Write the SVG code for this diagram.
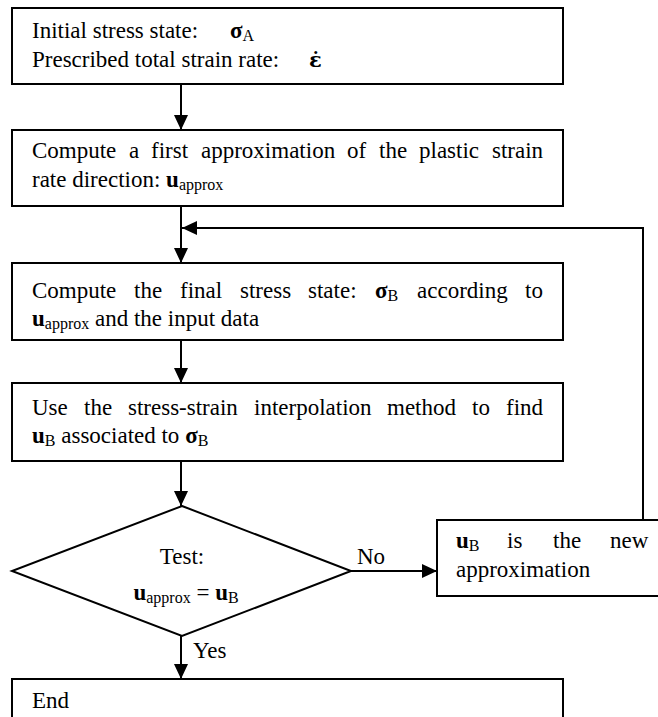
<svg xmlns="http://www.w3.org/2000/svg" width="658" height="717" viewBox="0 0 658 717">
<defs>
<marker id="ah" markerUnits="userSpaceOnUse" markerWidth="16" markerHeight="14" refX="15" refY="7" orient="auto">
<path d="M0,0 L15,7 L0,14 z" fill="#000"/>
</marker>
<style>
.box{fill:#fff;stroke:#000;stroke-width:2}
.con{fill:none;stroke:#000;stroke-width:2}
text{font-family:"Liberation Serif","Times New Roman",serif;font-size:23px;fill:#000}
.b{font-weight:bold}
.s{font-size:16px}
.eps{font-family:"DejaVu Serif","Liberation Serif",serif;font-size:21px;font-weight:bold}
</style>
</defs>
<rect width="658" height="717" fill="#fff"/>
<g id="connectors">
<line class="con" x1="181" y1="84" x2="181" y2="130" marker-end="url(#ah)"/>
<line class="con" x1="181" y1="206" x2="181" y2="263" marker-end="url(#ah)"/>
<polyline class="con" points="643,520 643,228 182,228" marker-end="url(#ah)"/>
<line class="con" x1="181" y1="340" x2="181" y2="383" marker-end="url(#ah)"/>
<line class="con" x1="181" y1="461" x2="181" y2="506" marker-end="url(#ah)"/>
<line class="con" x1="351" y1="571" x2="437" y2="571" marker-end="url(#ah)"/>
<line class="con" x1="181" y1="636" x2="181" y2="679" marker-end="url(#ah)"/>
<text x="357" y="564">No</text>
<text x="193" y="658">Yes</text>
</g>
<g id="start">
<rect class="box" x="12" y="8" width="551" height="76"/>
<text x="32" y="38">Initial stress state: <tspan class="b" x="230">σ</tspan><tspan class="s" dy="3">A</tspan></text>
<text x="32" y="67">Prescribed total strain rate: <tspan class="eps" x="309">ε̇</tspan></text>
</g>
<g id="first-approx">
<rect class="box" x="12" y="130" width="551" height="76"/>
<text y="158"><tspan x="32">Compute</tspan><tspan x="129">a</tspan><tspan x="151">first</tspan><tspan x="201">approximation</tspan><tspan x="347">of</tspan><tspan x="379">the</tspan><tspan x="419">plastic</tspan><tspan x="492">strain</tspan></text>
<text y="187"><tspan x="32">rate direction: </tspan><tspan class="b">u</tspan><tspan class="s" dy="3">approx</tspan></text>
</g>
<g id="final-stress">
<rect class="box" x="12" y="263" width="551" height="77"/>
<text y="298"><tspan x="32">Compute</tspan><tspan x="134">the</tspan><tspan x="180">final</tspan><tspan x="240">stress</tspan><tspan x="308">state:</tspan><tspan class="b" x="375">σ</tspan><tspan class="s" dy="3">B</tspan><tspan x="417" dy="-3">according</tspan><tspan x="525">to</tspan></text>
<text y="326"><tspan x="32" class="b">u</tspan><tspan class="s" dy="3">approx</tspan><tspan dy="-3"> and the input data</tspan></text>
</g>
<g id="interpolation">
<rect class="box" x="12" y="383" width="551" height="78"/>
<text y="415"><tspan x="32">Use</tspan><tspan x="84">the</tspan><tspan x="128">stress-strain</tspan><tspan x="254">interpolation</tspan><tspan x="387">method</tspan><tspan x="472">to</tspan><tspan x="506">find</tspan></text>
<text y="443"><tspan x="32" class="b">u</tspan><tspan class="s" dy="3">B</tspan><tspan dy="-3"> associated to </tspan><tspan class="b">σ</tspan><tspan class="s" dy="3">B</tspan></text>
</g>
<g id="test">
<polygon class="box" points="182,506 351,571 182,636 12,571"/>
<text x="182" y="564" text-anchor="middle">Test:</text>
<text x="186" y="600" text-anchor="middle"><tspan class="b">u</tspan><tspan class="s" dy="3">approx</tspan><tspan dy="-3"> = </tspan><tspan class="b">u</tspan><tspan class="s" dy="3">B</tspan></text>
</g>
<g id="new-approx">
<rect class="box" x="437" y="520" width="240" height="76"/>
<text y="548"><tspan x="456" class="b">u</tspan><tspan class="s" dy="3">B</tspan><tspan x="507" dy="-3">is</tspan><tspan x="553">the</tspan><tspan x="610">new</tspan></text>
<text x="456" y="577">approximation</text>
</g>
<g id="end">
<rect class="box" x="12" y="679" width="551" height="60"/>
<text x="32" y="708">End</text>
</g>
</svg>
